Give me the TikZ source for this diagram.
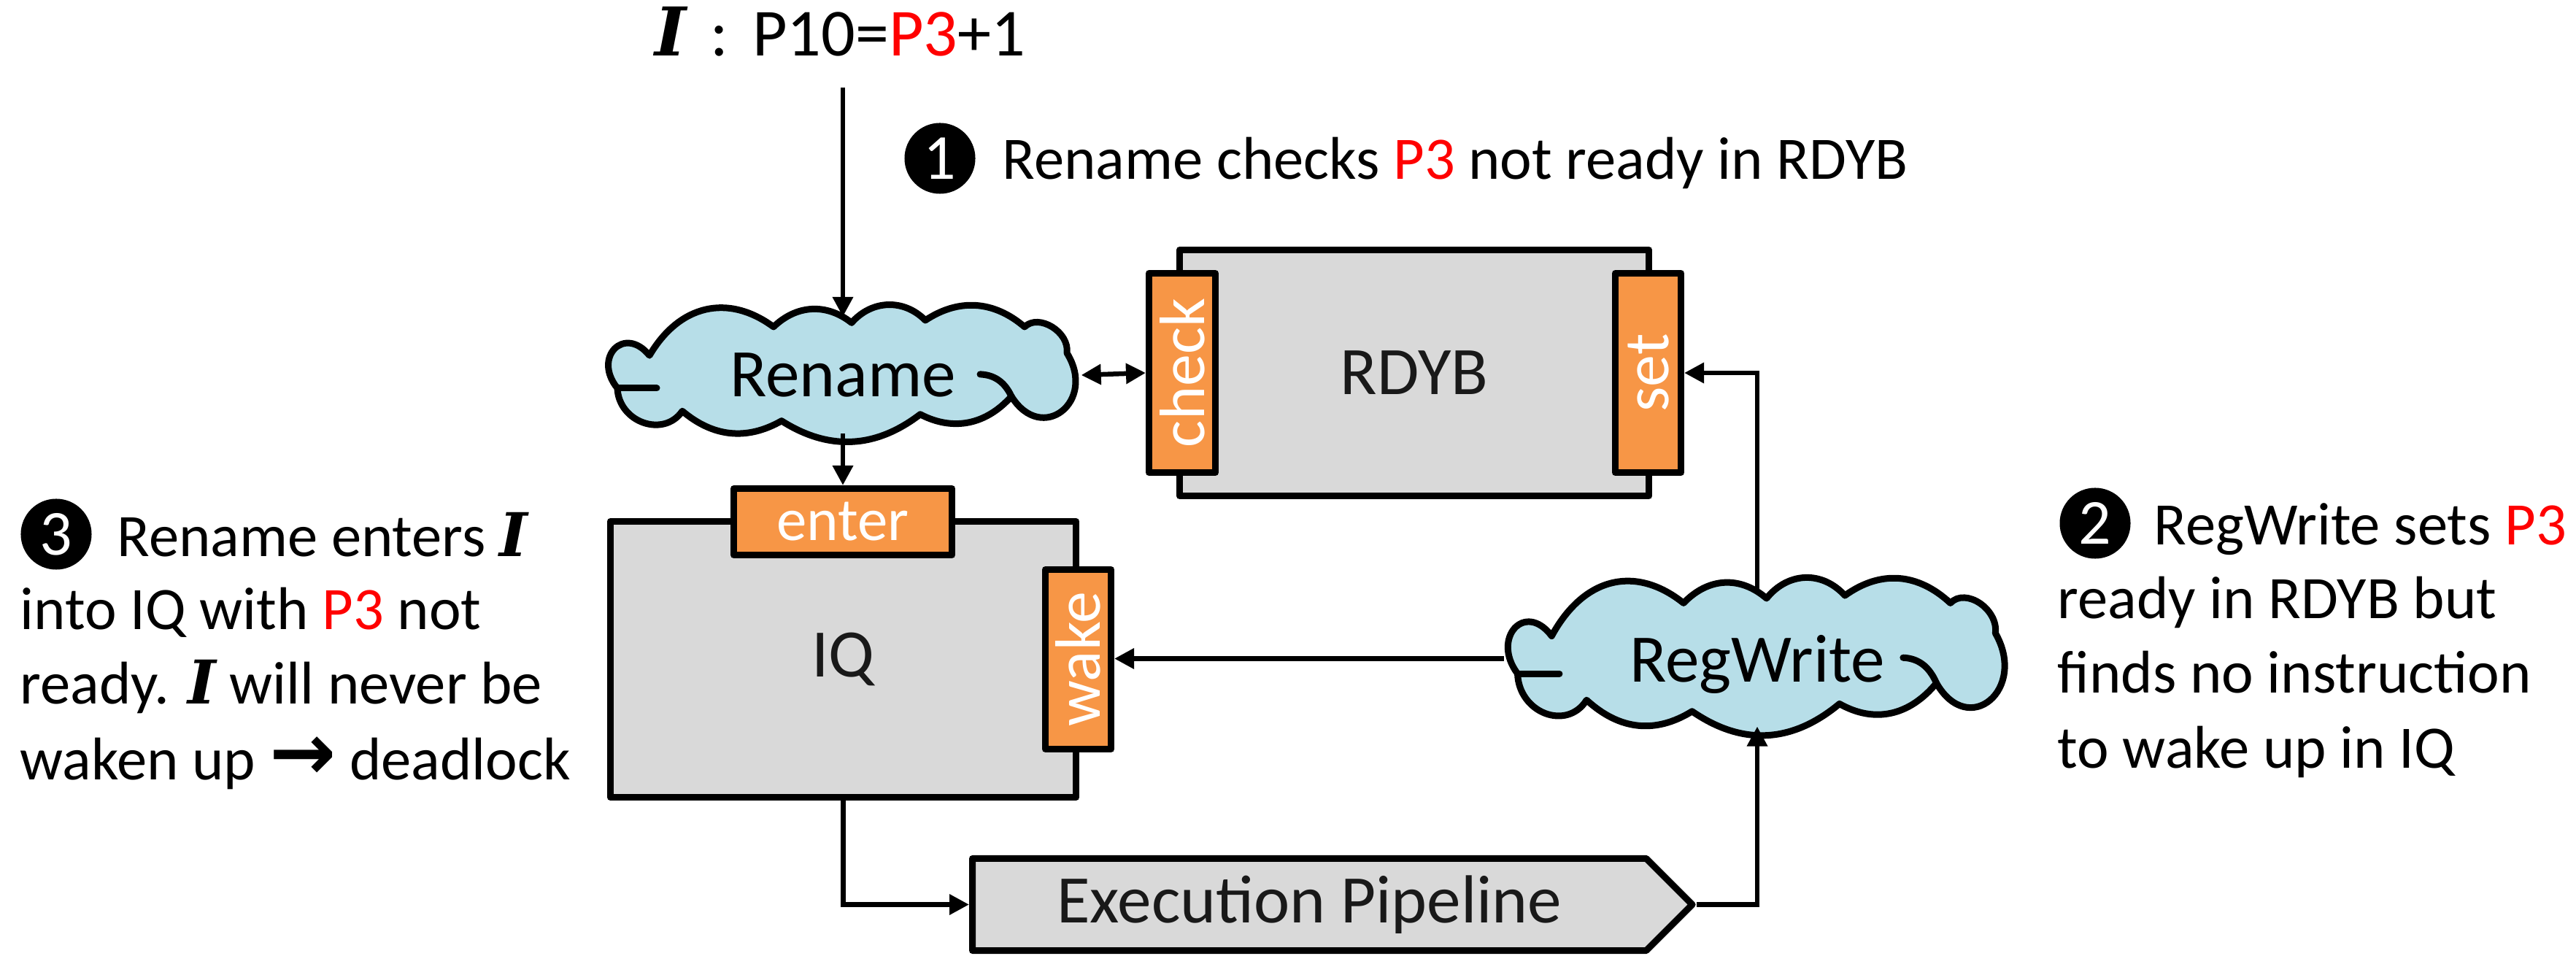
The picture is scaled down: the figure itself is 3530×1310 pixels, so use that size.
\documentclass[tikz,border=0pt]{standalone}
\usepackage{fontspec}
\setmainfont{Carlito}
\newfontfamily\Ifont{DejaVu Serif}
\newfontfamily\symfont{DejaVu Sans}
\usetikzlibrary{shapes.symbols,arrows.meta}
\definecolor{cloudblue}{HTML}{B7DEE8}
\definecolor{taborange}{HTML}{F79646}
\definecolor{boxgray}{HTML}{D9D9D9}
\definecolor{pred}{HTML}{FF0000}
\newcommand{\instrI}{{\Ifont\bfseries\itshape I}}
\tikzset{
  box/.style={draw=black, fill=boxgray, line width=0.09cm, line join=round, inner sep=0pt,
    text=black!90, font=\fontsize{26.5}{30}\selectfont},
  tabbox/.style={draw=black, fill=taborange, line width=0.09cm, line join=round, inner sep=0pt,
    text=white, font=\fontsize{23.6}{28}\selectfont},
  vtab/.style={tabbox, font=\fontsize{25}{28}\selectfont},
  cloudline/.style={draw=black, fill=cloudblue, line width=0.09cm, line join=round, line cap=round},
  hookline/.style={draw=black, line width=0.09cm, line cap=round},
  cloudtext/.style={rectangle, inner sep=0pt, outer sep=0pt, text depth=0pt, text=black,
    font=\fontsize{26.5}{30}\selectfont},
  conn/.style={line width=0.065cm, -{Triangle[length=0.27cm,width=0.27cm]}},
  dconn/.style={line width=0.065cm, {Triangle[length=0.27cm,width=0.27cm]}-{Triangle[length=0.27cm,width=0.27cm]}},
  annot/.style={anchor=base west, inner sep=0pt, text=black, font=\fontsize{23.5}{28}\selectfont},
  numc/.style={circle, fill=black, text=white, minimum size=0.97cm, inner sep=0pt,
    font=\fontsize{25}{25}\selectfont},
}
% cloud outline: #1 centre, #2 xscale, #3 yscale
\newcommand{\cloudoutline}[3]{%
  \begin{scope}[shift={#1}, xscale=#2, yscale=#3]
    \path[cloudline] (-265,-24) to[bend left=45, looseness=1.1] (-95,-59) to[bend left=38] (12,-64)
      to[bend left=44] (113,-67) to[bend left=34] (249,-59) to[bend left=70] (307,-27)
      to[bend left=90, looseness=2.0] (231,26) to[bend left=35] (106,48)
      to[bend left=32] (-84,56) to[bend left=32] (-220,44)
      to[bend left=70, looseness=1.15] (-309,16) to[bend left=90, looseness=2.2] (-265,-24) -- cycle;
    \draw[hookline] (-309,16) -- (-255,16);
    \draw[hookline] (188,-1) to[bend left=30] (231,26);
  \end{scope}}
\begin{document}
\begin{tikzpicture}[x=0.01cm, y=-0.01cm]
\useasboundingbox (0,0) rectangle (3530,1310);

% top instruction
\node[anchor=base west, inner sep=0pt, font=\fontsize{26.2}{30}\selectfont] (instr) at (897,77)
  {\instrI\hspace{0.12cm} :\hspace{0.12cm} P10={\color{pred}P3}+1};
\coordinate (instrout) at (1155,120);

% RDYB with tabs
\node[box, minimum width=6.43cm, minimum height=3.37cm] (rdyb) at (1938,511) {RDYB};
\node[vtab, minimum width=0.91cm, minimum height=2.73cm] (check) at (1620,511) {\rotatebox{90}{check}};
\node[vtab, minimum width=0.90cm, minimum height=2.73cm] (set) at (2258.5,511) {\rotatebox{90}{set}};

% IQ with tabs
\node[box, minimum width=6.38cm, minimum height=3.78cm] (iq) at (1155.5,903.5) {IQ};
\node[tabbox, minimum width=2.99cm, minimum height=0.91cm] (enter) at (1155,715) {enter};
\node[vtab, minimum width=0.90cm, minimum height=2.46cm] (wake) at (1477.5,903.5) {\rotatebox{90}{wake}};

% clouds
\cloudoutline{(1155,514)}{1}{1.12}
\node[cloudtext, minimum width=6.53cm, minimum height=1.6cm] (rename) at (1155,514) {Rename\hspace{0.44cm}};
\cloudoutline{(2408,902.5)}{1.063}{1.29}
\node[cloudtext, minimum width=6.94cm, minimum height=1.86cm] (regwrite) at (2408,902.5) {RegWrite\hspace{0.48cm}};

% execution pipeline
\node[box, signal, signal to=east, signal from=nowhere, signal pointer angle=90,
  minimum width=9.86cm, minimum height=1.26cm, anchor=west] (pipe) at (1328,1239.5) {Execution Pipeline};

% connectors
\draw[conn] (instrout) -- (rename.north);
\draw[conn] (rename.south) -- (enter.north);
\draw[dconn] (rename.east) -- (check.west);
\draw[conn] (regwrite.north) |- (set.east);
\draw[conn] (regwrite.west) -- (regwrite.west -| wake.east);
\draw[conn] (iq.south) |- (pipe.west);
\draw[conn] (pipe.east) -| (regwrite.south);

% annotation 1
\node[numc] (n1) at (1288,217) {1};
\node[annot] (a1) at (1373,246) {Rename checks {\color{pred}P3} not ready in RDYB};

% annotation 2
\node[numc] (n2) at (2871,717) {2};
\node[annot] (a2a) at (2951,747) {RegWrite sets {\color{pred}P3}};
\node[annot] (a2b) at (2819,848) {ready in RDYB but};
\node[annot] (a2c) at (2819,950) {finds no instruction};
\node[annot] (a2d) at (2819,1052) {to wake up in IQ};

% annotation 3
\node[numc] (n3) at (77,732) {3};
\node[annot] (a3a) at (160,763) {Rename enters \instrI};
\node[annot] (a3b) at (27,863) {into IQ with {\color{pred}P3} not};
\node[annot] (a3c) at (27,965) {ready. \instrI{} will never be};
\node[annot] (a3d) at (27,1068) {waken up {\fontsize{31}{28}\symfont\bfseries →} deadlock};
\end{tikzpicture}
\end{document}
